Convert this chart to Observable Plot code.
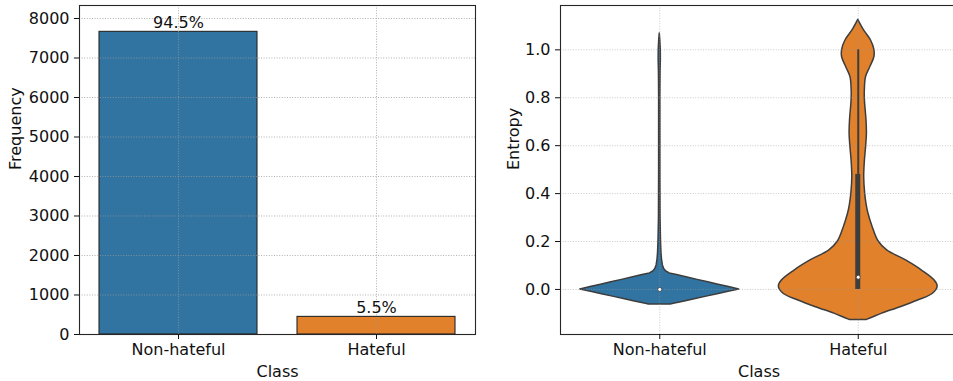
<!DOCTYPE html>
<html><head><meta charset="utf-8">
<script src="https://cdn.jsdelivr.net/npm/d3@7"></script>
<script src="https://cdn.jsdelivr.net/npm/@observablehq/plot@0.6"></script>
<style>
html,body{margin:0;padding:0;background:#fff;}
#wrap{position:relative;width:953px;height:381px;overflow:hidden;background:#fff;}
#left{position:absolute;left:0;top:0;width:480px;height:381px;}
#right{position:absolute;left:480px;top:0;width:477px;height:381px;}
#wrap svg{max-width:none !important;display:block;}
</style></head><body>
<div id="wrap"><div id="left"></div><div id="right"></div></div>
<script>
// ---------- data ----------
const classes = ["Non-hateful", "Hateful"];
const frequency = [7662, 446];
const percentLabels = ["94.5%", "5.5%"];
const freqTicks = [0, 1000, 2000, 3000, 4000, 5000, 6000, 7000, 8000];
const entropyTicks = [0, 0.2, 0.4, 0.6, 0.8, 1.0];
const classColors = ["#3274a1", "#e1812c"];

// violin outlines: entropy value and relative density (width)
const nonHatefulEntropy = [-0.0626, -0.06, -0.05, -0.04, -0.03, -0.02, -0.01, 0.0, 0.01, 0.02, 0.03, 0.04, 0.05, 0.06, 0.067, 0.075, 0.085, 0.1, 0.12, 0.15, 0.2, 0.3, 0.5, 0.8, 0.9, 0.96, 1.0, 1.04, 1.068];
const nonHatefulDensity = [0.138, 0.176, 0.314, 0.452, 0.59, 0.728, 0.866, 1.0, 0.872, 0.74, 0.611, 0.477, 0.349, 0.217, 0.125, 0.082, 0.056, 0.04, 0.03, 0.022, 0.016, 0.01, 0.008, 0.008, 0.01, 0.014, 0.013, 0.007, 0];
const hatefulEntropy = [-0.127, -0.118, -0.101, -0.074, -0.046, -0.018, 0.0125, 0.0375, 0.079, 0.121, 0.163, 0.2, 0.26, 0.316, 0.35, 0.4, 0.469, 0.538, 0.6, 0.65, 0.705, 0.789, 0.83, 0.886, 0.927, 0.969, 1.0, 1.039, 1.081, 1.125];
const hatefulDensity = [0.109, 0.176, 0.301, 0.533, 0.753, 0.941, 1.0, 0.962, 0.803, 0.602, 0.364, 0.257, 0.182, 0.129, 0.107, 0.087, 0.075, 0.084, 0.1, 0.109, 0.104, 0.084, 0.083, 0.098, 0.151, 0.203, 0.203, 0.161, 0.073, 0];

// box statistics per class
const q1 = [0.0, 0.0];
const medians = [0.0, 0.051];
const q3 = [0.0, 0.48];
const whiskerHigh = [0.0, 1.0];

// ---------- shared style ----------
const font = "DejaVu Sans, sans-serif";
const textColor = "#111";
const gridStyle = {stroke: "#999", strokeOpacity: 0.85, strokeWidth: 0.9, strokeDasharray: "1,1.6"};
const edge = "#3d3d3d";

// ---------- left: bar chart ----------
const barData = classes.map((c, i) => ({cls: c, freq: frequency[i], pct: percentLabels[i]}));
const left = Plot.plot({
  width: 480, height: 381,
  marginLeft: 79, marginRight: 5, marginTop: 5, marginBottom: 47,
  style: {fontFamily: font, fontSize: "16px", color: textColor, background: "transparent"},
  x: {type: "band", domain: classes, paddingInner: 0.2, paddingOuter: 0.1, label: null},
  y: {domain: [0, 8329], label: null},
  color: {domain: classes, range: classColors},
  marks: [
    Plot.barY(barData, {x: "cls", y: "freq", fill: "cls", stroke: "#262626", strokeWidth: 1.1}),
    Plot.gridY(freqTicks, gridStyle),
    Plot.gridX(classes, gridStyle),
    Plot.frame({stroke: "#262626", strokeWidth: 1.1}),
    Plot.axisY(freqTicks, {tickSize: 5, tickPadding: 5, fontSize: 16, tickFormat: d => String(d), label: null}),
    Plot.axisX(classes, {tickSize: 5, tickPadding: 4.6, fontSize: 16, label: null}),
    Plot.text(barData, {x: "cls", y: "freq", text: "pct", lineAnchor: "bottom", dy: -4, fontSize: 16, fill: textColor}),
    Plot.text(["Class"], {frameAnchor: "bottom", dy: 31.6, lineAnchor: "top", fontSize: 16, fill: textColor}),
    Plot.text(["Frequency"], {frameAnchor: "left", dx: -64, rotate: -90, fontSize: 16, fill: textColor})
  ]
});
document.getElementById("left").appendChild(left);

// ---------- right: violin plot ----------
const violinRows = [
  ...nonHatefulEntropy.map((v, j) => ({cls: classes[0], i: 0, v, w: nonHatefulDensity[j]})),
  ...hatefulEntropy.map((v, j) => ({cls: classes[1], i: 1, v, w: hatefulDensity[j]}))
];
const boxRows = classes.map((c, i) => ({cls: c, i, q1: q1[i], med: medians[i], q3: q3[i], hi: whiskerHigh[i]}));
const halfWidth = 0.4;
const boxHalf = 0.0126;

const right = Plot.plot({
  width: 477, height: 381,
  marginLeft: 80, marginRight: 0, marginTop: 5, marginBottom: 47,
  style: {fontFamily: font, fontSize: "16px", color: textColor, background: "transparent"},
  x: {domain: [-0.5, 1.5], label: null},
  y: {domain: [-0.188, 1.185], label: null},
  marks: [
    Plot.areaX(violinRows.filter(d => d.i === 0), {y: "v", x1: d => d.i - d.w * halfWidth, x2: d => d.i + d.w * halfWidth, fill: classColors[0], stroke: edge, strokeWidth: 1.5, curve: "linear"}),
    Plot.areaX(violinRows.filter(d => d.i === 1), {y: "v", x1: d => d.i - d.w * halfWidth, x2: d => d.i + d.w * halfWidth, fill: classColors[1], stroke: edge, strokeWidth: 1.5, curve: "catmull-rom"}),
    Plot.gridY(entropyTicks, {...gridStyle, strokeOpacity: 0.6}),
    Plot.gridX([0, 1], {...gridStyle, strokeOpacity: 0.6}),
    Plot.ruleX(boxRows, {x: "i", y1: "q3", y2: "hi", stroke: edge, strokeWidth: 2}),
    Plot.rect(boxRows.filter(d => d.q3 > d.q1), {x1: d => d.i - boxHalf, x2: d => d.i + boxHalf, y1: "q1", y2: "q3", fill: edge}),
    Plot.dot(boxRows, {x: "i", y: "med", r: 2, fill: "white", stroke: edge, strokeWidth: 0.8}),
    Plot.frame({stroke: "#262626", strokeWidth: 1.1}),
    Plot.axisY(entropyTicks, {tickSize: 5, tickPadding: 5, fontSize: 16, tickFormat: d3.format(".1f"), label: null}),
    Plot.axisX([0, 1], {tickSize: 5, tickPadding: 4.6, fontSize: 16, tickFormat: i => classes[i], label: null}),
    Plot.text(["Class"], {frameAnchor: "bottom", dy: 31.6, lineAnchor: "top", fontSize: 16, fill: textColor}),
    Plot.text(["Entropy"], {frameAnchor: "left", dx: -47, rotate: -90, fontSize: 16, fill: textColor})
  ]
});
document.getElementById("right").appendChild(right);
</script>
</body></html>
